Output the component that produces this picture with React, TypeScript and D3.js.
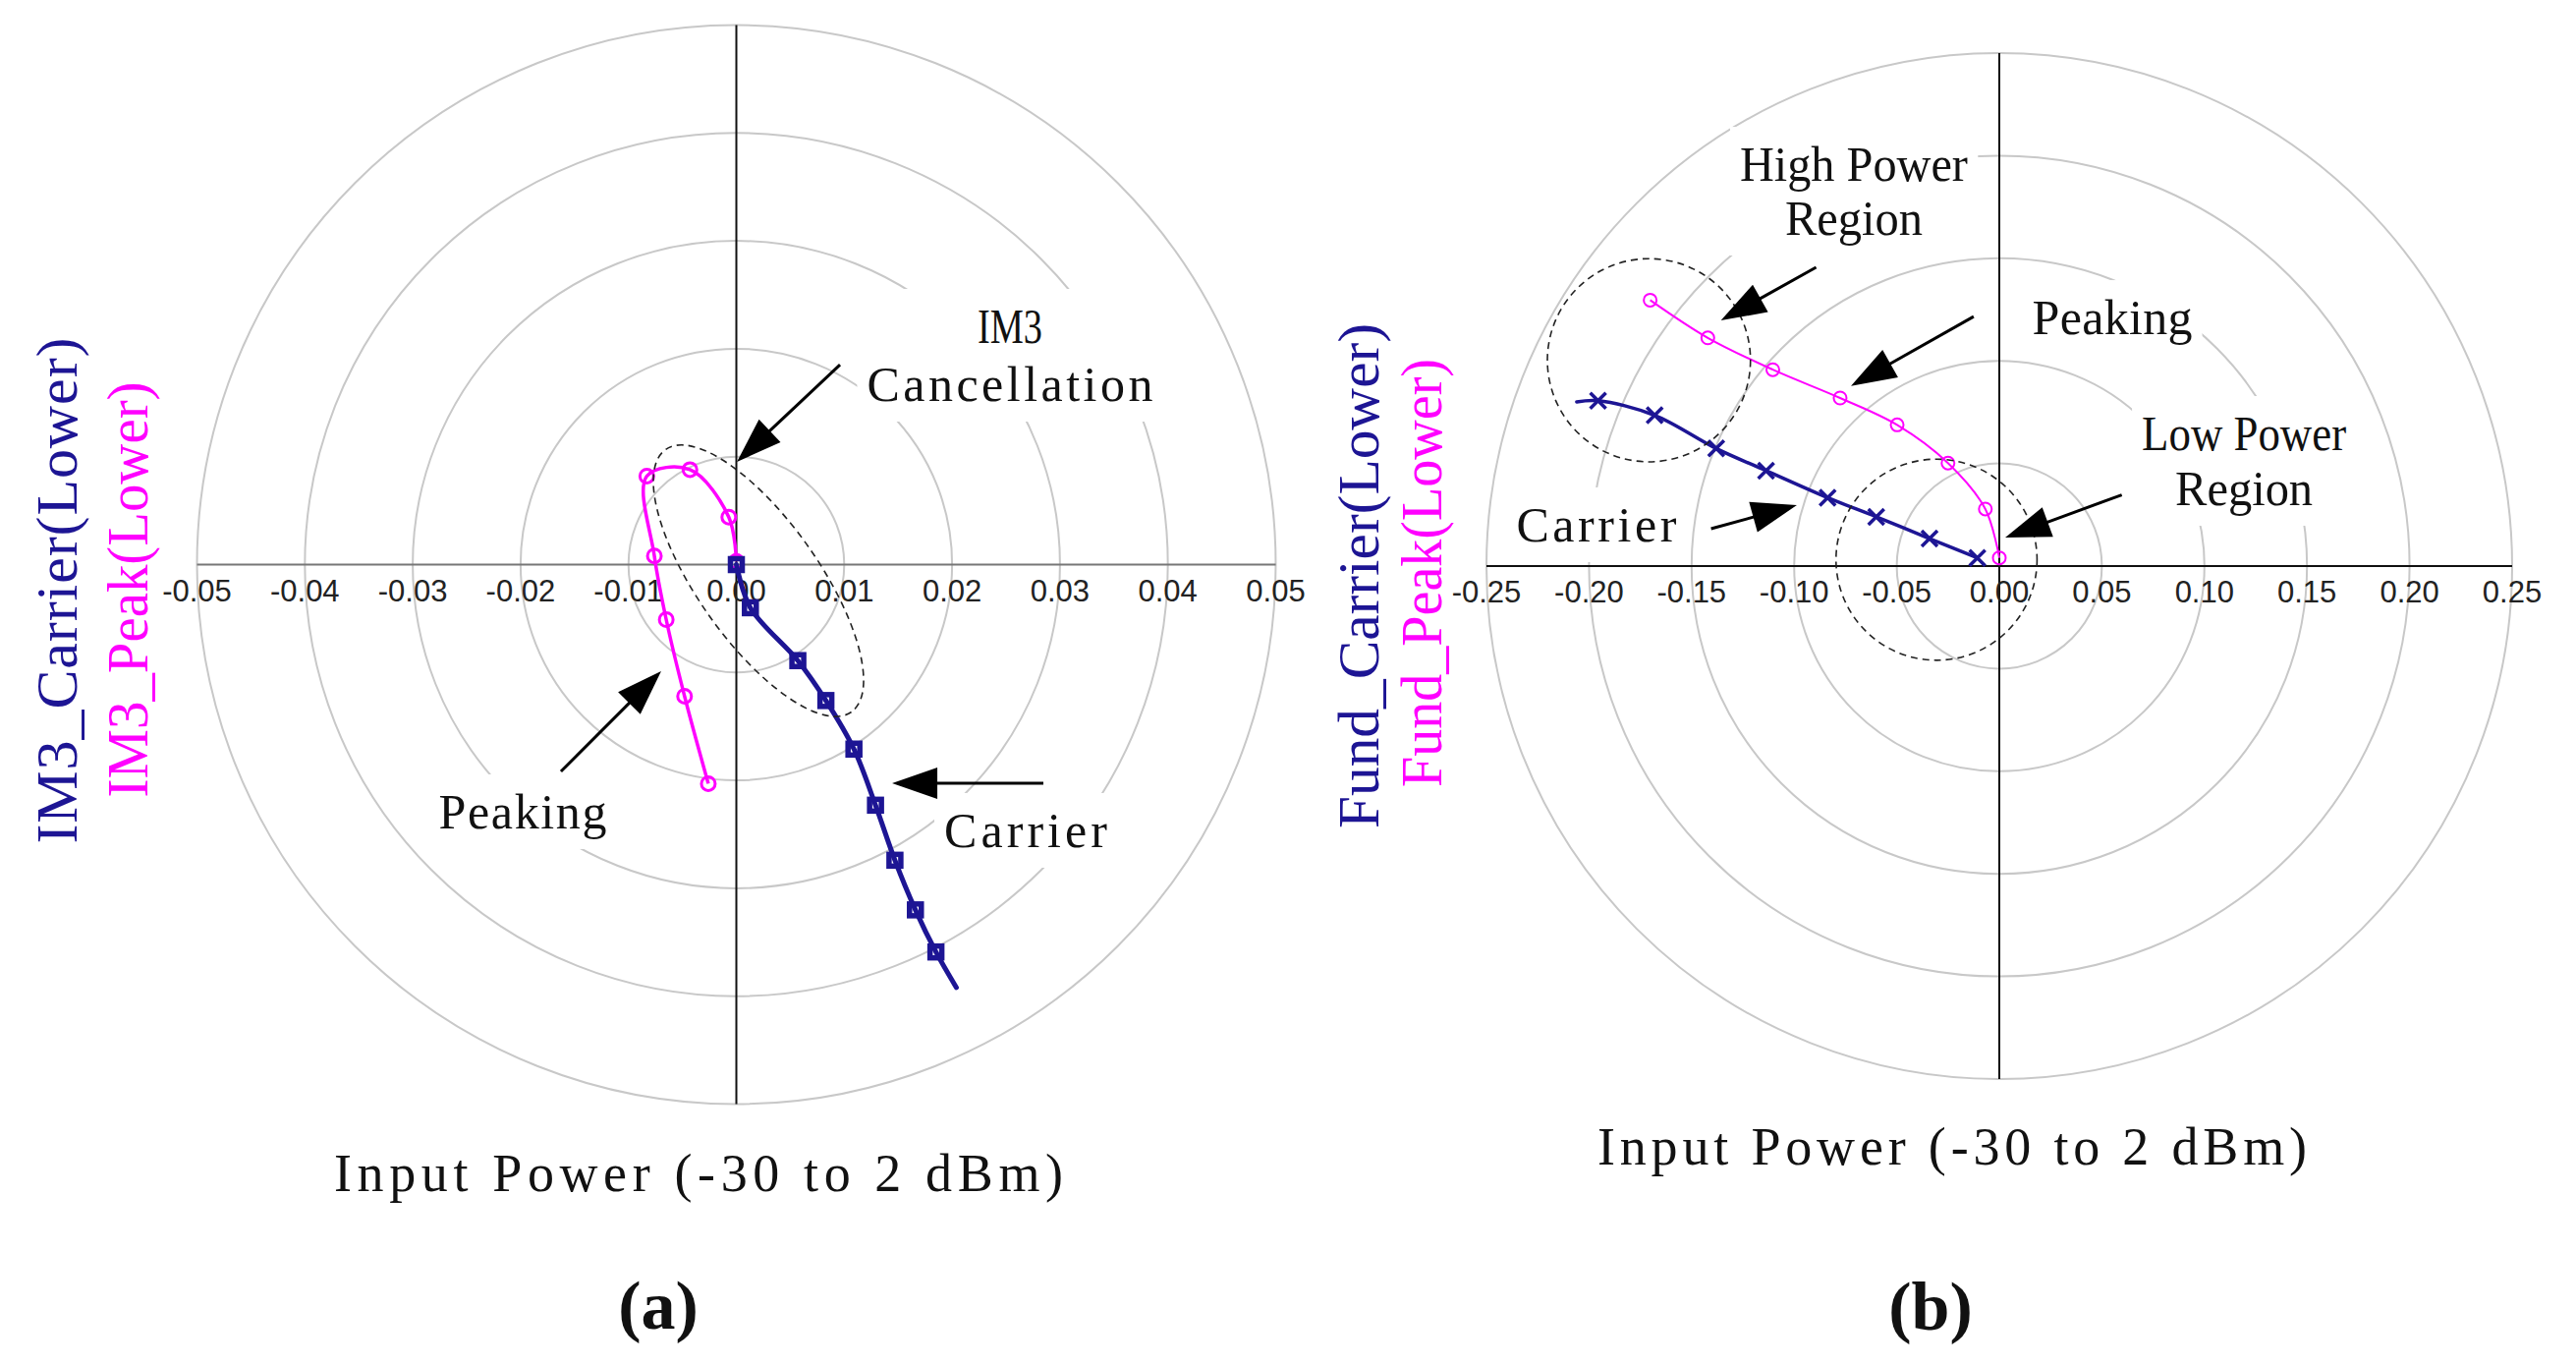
import React, { useEffect, useRef } from 'react';
import * as d3 from 'd3';

type Pt = [number, number];

// ---- panel (a): IM3 vectors, lower side ----
const im3CarrierRe = [0.0, 0.0013, 0.0057, 0.0083, 0.0109, 0.0129, 0.0147, 0.0166, 0.0185];
const im3CarrierIm = [0.0, -0.004, -0.0089, -0.0126, -0.0171, -0.0223, -0.0274, -0.032, -0.0359];
const im3CarrierTail: Pt = [0.0204, -0.0392];
const im3PeakRe = [0.0, -0.0007, -0.0043, -0.0083, -0.0076, -0.0065, -0.0048, -0.0026];
const im3PeakIm = [0.0003, 0.0044, 0.0088, 0.0082, 0.0008, -0.0051, -0.0122, -0.0203];
const ticksA = [-0.05, -0.04, -0.03, -0.02, -0.01, 0.0, 0.01, 0.02, 0.03, 0.04, 0.05];
const ringsA = [0.01, 0.02, 0.03, 0.04, 0.05];

// ---- panel (b): fundamental vectors, lower side ----
const fundCarrierRe = [-0.0107, -0.034, -0.06, -0.0837, -0.1137, -0.138, -0.168, -0.1956];
const fundCarrierIm = [0.004, 0.0134, 0.024, 0.0333, 0.0465, 0.0573, 0.0735, 0.0806];
const fundCarrierTail: Pt = [-0.206, 0.08];
const fundPeakRe = [0.0, -0.0068, -0.025, -0.0498, -0.0776, -0.1104, -0.1421, -0.1702];
const fundPeakIm = [0.004, 0.0278, 0.0502, 0.0688, 0.0819, 0.0957, 0.1112, 0.1296];
const ticksB = [-0.25, -0.2, -0.15, -0.1, -0.05, 0.0, 0.05, 0.1, 0.15, 0.2, 0.25];
const ringsB = [0.05, 0.1, 0.15, 0.2, 0.25];

const BLUE = '#1d1594';
const PINK = '#ff00ff';
const SERIF = '"Liberation Serif", "Times New Roman", serif';
const SANS = '"Liberation Sans", Arial, sans-serif';

const zip = (re: number[], im: number[]): Pt[] => re.map((v, i) => [v, im[i]]);

interface Line { text: string; x: number; y: number; w: number }
interface Panel {
  cx: number; cy: number; R: number; max: number;
  ticks: number[]; rings: number[];
  hAxisColor: string;
  carrier: Pt[]; carrierLine: Pt[]; peak: Pt[];
  carrierMarker: 'square' | 'cross';
  carrierWidth: number; peakWidth: number; peakR: number; peakStroke: number;
  ellipses: { c: Pt; rx: number; ry: number; rot: number }[];
  arrows: { from: Pt; to: Pt }[];
  blocks: Line[][];
  yLabels: { text: string; x: number; y: number; w: number; color: string }[];
  title: { x: number; y: number; w: number };
  tag: { text: string; x: number; y: number };
}

const panelA: Panel = {
  cx: 749.5, cy: 574.5, R: 549, max: 0.05,
  ticks: ticksA, rings: ringsA, hAxisColor: '#777',
  carrier: zip(im3CarrierRe, im3CarrierIm),
  carrierLine: [...zip(im3CarrierRe, im3CarrierIm), im3CarrierTail],
  peak: zip(im3PeakRe, im3PeakIm),
  carrierMarker: 'square', carrierWidth: 5, peakWidth: 3.5, peakR: 7, peakStroke: 3,
  ellipses: [{ c: [0.00205, -0.0015], rx: 0.0149, ry: 0.0056, rot: 54.7 }],
  arrows: [
    { from: [0.00961, 0.01853], to: [0.00005, 0.00952] },
    { from: [-0.01626, -0.01917], to: [-0.00697, -0.00988] },
    { from: [0.02846, -0.02026], to: [0.01444, -0.02026] },
  ],
  blocks: [
    [
      { text: 'IM3', x: 0.02536, y: 0.02054, w: 66 },
      { text: 'Cancellation', x: 0.02536, y: 0.01516, w: 291 },
    ],
    [{ text: 'Peaking', x: -0.01981, y: -0.02445, w: 171 }],
    [{ text: 'Carrier', x: 0.02682, y: -0.02618, w: 166 }],
  ],
  yLabels: [
    { text: 'IM3_Carrier(Lower)', x: 78, y: 601, w: 515, color: BLUE },
    { text: 'IM3_Peak(Lower)', x: 150, y: 600, w: 423, color: PINK },
  ],
  title: { x: 711, y: 1212, w: 742 },
  tag: { text: '(a)', x: 670, y: 1352 },
};

const panelB: Panel = {
  cx: 2035, cy: 576, R: 522, max: 0.25,
  ticks: ticksB, rings: ringsB, hAxisColor: '#111',
  carrier: zip(fundCarrierRe, fundCarrierIm),
  carrierLine: [...zip(fundCarrierRe, fundCarrierIm), fundCarrierTail],
  peak: zip(fundPeakRe, fundPeakIm),
  carrierMarker: 'cross', carrierWidth: 3.5, peakWidth: 2, peakR: 6.5, peakStroke: 2,
  ellipses: [
    { c: [-0.1708, 0.1003], rx: 0.0495, ry: 0.0495, rot: 0 },
    { c: [-0.0306, 0.0031], rx: 0.049, ry: 0.049, rot: 0 },
  ],
  arrows: [
    { from: [-0.0893, 0.1456], to: [-0.1357, 0.1197] },
    { from: [-0.0125, 0.1216], to: [-0.0723, 0.0878] },
    { from: [-0.1405, 0.0182], to: [-0.0987, 0.0297] },
    { from: [0.0597, 0.0347], to: [0.0029, 0.0139] },
  ],
  blocks: [
    [
      { text: 'High Power', x: -0.0709, y: 0.1877, w: 232 },
      { text: 'Region', x: -0.0709, y: 0.1614, w: 140 },
    ],
    [{ text: 'Peaking', x: 0.0551, y: 0.113, w: 163 }],
    [
      { text: 'Low Power', x: 0.1193, y: 0.0565, w: 208 },
      { text: 'Region', x: 0.1193, y: 0.0297, w: 140 },
    ],
    [{ text: 'Carrier', x: -0.1964, y: 0.012, w: 163 }],
  ],
  yLabels: [
    { text: 'Fund_Carrier(Lower)', x: 1403, y: 586, w: 514, color: BLUE },
    { text: 'Fund_Peak(Lower)', x: 1467, y: 583, w: 436, color: PINK },
  ],
  title: { x: 1987, y: 1185, w: 722 },
  tag: { text: '(b)', x: 1965, y: 1353 },
};

// stretch or squeeze a text to the width it has in the figure
const fit = (sel: d3.Selection<SVGTextElement, unknown, null, undefined>, w: number) => {
  const natural = sel.node()!.getComputedTextLength();
  sel.attr('textLength', w).attr('lengthAdjust', natural > w ? 'spacingAndGlyphs' : 'spacing');
};

const drawPanel = (root: d3.Selection<SVGSVGElement, unknown, null, undefined>, p: Panel) => {
  const x = d3.scaleLinear().domain([-p.max, p.max]).range([p.cx - p.R, p.cx + p.R]);
  const y = d3.scaleLinear().domain([-p.max, p.max]).range([p.cy + p.R, p.cy - p.R]);
  const r = d3.scaleLinear().domain([0, p.max]).range([0, p.R]);

  const g = root.append('g');
  const gGrid = g.append('g');
  const gMask = g.append('g');
  const gAxes = g.append('g');
  const gData = g.append('g');
  const gAnno = g.append('g');
  const gText = g.append('g');

  // rings
  gGrid.selectAll('circle').data(p.rings).enter().append('circle')
    .attr('cx', x(0)).attr('cy', y(0)).attr('r', d => r(d))
    .attr('fill', 'none').attr('stroke', '#c8c8c8').attr('stroke-width', 2);

  // axes
  gAxes.append('line')
    .attr('x1', x(-p.max)).attr('x2', x(p.max)).attr('y1', y(0)).attr('y2', y(0))
    .attr('stroke', p.hAxisColor).attr('stroke-width', 2);
  gAxes.append('line')
    .attr('x1', x(0)).attr('x2', x(0)).attr('y1', y(p.max)).attr('y2', y(-p.max))
    .attr('stroke', '#111').attr('stroke-width', 2);

  gAxes.selectAll('text.tick').data(p.ticks).enter().append('text')
    .attr('class', 'tick')
    .attr('x', d => x(d)).attr('y', y(0) + 37)
    .attr('text-anchor', 'middle')
    .attr('font-family', SANS).attr('font-size', 31).attr('fill', '#222')
    .text(d => d.toFixed(2));

  // dashed regions
  p.ellipses.forEach(e => {
    const ex = x(e.c[0]);
    const ey = y(e.c[1]);
    gAnno.append('ellipse')
      .attr('cx', ex).attr('cy', ey).attr('rx', r(e.rx)).attr('ry', r(e.ry))
      .attr('transform', `rotate(${e.rot},${ex},${ey})`)
      .attr('fill', 'none').attr('stroke', '#222').attr('stroke-width', 1.6)
      .attr('stroke-dasharray', '7,5');
  });

  const line = d3.line<Pt>().x(d => x(d[0])).y(d => y(d[1])).curve(d3.curveCatmullRom.alpha(0.5));

  // peak path
  gData.append('path').attr('d', line(p.peak))
    .attr('fill', 'none').attr('stroke', PINK).attr('stroke-width', p.peakWidth);
  gData.selectAll('circle.pk').data(p.peak).enter().append('circle')
    .attr('class', 'pk')
    .attr('cx', d => x(d[0])).attr('cy', d => y(d[1])).attr('r', p.peakR)
    .attr('fill', 'none').attr('stroke', PINK).attr('stroke-width', p.peakStroke);

  // carrier path
  gData.append('path').attr('d', line(p.carrierLine))
    .attr('fill', 'none').attr('stroke', BLUE).attr('stroke-width', p.carrierWidth)
    .attr('stroke-linecap', 'round');
  if (p.carrierMarker === 'square') {
    gData.selectAll('rect.cr').data(p.carrier).enter().append('rect')
      .attr('class', 'cr')
      .attr('x', d => x(d[0]) - 6).attr('y', d => y(d[1]) - 6)
      .attr('width', 12).attr('height', 12)
      .attr('fill', 'none').attr('stroke', BLUE).attr('stroke-width', 5.5);
  } else {
    const s = 8;
    gData.selectAll('path.cr').data(p.carrier).enter().append('path')
      .attr('class', 'cr')
      .attr('d', d => {
        const px = x(d[0]);
        const py = y(d[1]);
        return `M${px - s},${py - s}L${px + s},${py + s}M${px - s},${py + s}L${px + s},${py - s}`;
      })
      .attr('fill', 'none').attr('stroke', BLUE).attr('stroke-width', 3.5);
  }

  // arrows
  p.arrows.forEach(a => {
    const x1 = x(a.from[0]);
    const y1 = y(a.from[1]);
    const x2 = x(a.to[0]);
    const y2 = y(a.to[1]);
    const len = Math.hypot(x2 - x1, y2 - y1);
    const ux = (x2 - x1) / len;
    const uy = (y2 - y1) / len;
    const L = 46;
    const W = 16;
    const bx = x2 - ux * L;
    const by = y2 - uy * L;
    gAnno.append('line')
      .attr('x1', x1).attr('y1', y1).attr('x2', bx + ux * 4).attr('y2', by + uy * 4)
      .attr('stroke', '#000').attr('stroke-width', 3);
    gAnno.append('path')
      .attr('d', `M${x2},${y2}L${bx - uy * W},${by + ux * W}L${bx + uy * W},${by - ux * W}Z`)
      .attr('fill', '#000');
  });

  // annotation texts, each block knocks the rings out behind it
  p.blocks.forEach(block => {
    let x0 = Infinity, y0 = Infinity, x1 = -Infinity, y1 = -Infinity;
    block.forEach(l => {
      const t = gText.append('text')
        .attr('x', x(l.x)).attr('y', y(l.y))
        .attr('text-anchor', 'middle')
        .attr('font-family', SERIF).attr('font-size', 50).attr('fill', '#111')
        .text(l.text);
      fit(t, l.w);
      const b = t.node()!.getBBox();
      x0 = Math.min(x0, b.x); y0 = Math.min(y0, b.y);
      x1 = Math.max(x1, b.x + b.width); y1 = Math.max(y1, b.y + b.height);
    });
    const pad = 10;
    gMask.append('rect')
      .attr('x', x0 - pad).attr('y', y0 - pad)
      .attr('width', x1 - x0 + 2 * pad).attr('height', y1 - y0 + 2 * pad)
      .attr('fill', '#fff');
  });

  // y labels
  p.yLabels.forEach(l => {
    const t = gText.append('text')
      .attr('transform', `translate(${l.x},${l.y}) rotate(-90)`)
      .attr('text-anchor', 'middle')
      .attr('font-family', SERIF).attr('font-size', 60).attr('fill', l.color)
      .text(l.text);
    fit(t, l.w);
  });

  // x title
  const tt = gText.append('text')
    .attr('x', p.title.x).attr('y', p.title.y)
    .attr('text-anchor', 'middle')
    .attr('font-family', SERIF).attr('font-size', 54).attr('fill', '#111')
    .text('Input Power (-30 to 2 dBm)');
  fit(tt, p.title.w);

  gText.append('text')
    .attr('x', p.tag.x).attr('y', p.tag.y)
    .attr('text-anchor', 'middle')
    .attr('font-family', SERIF).attr('font-size', 70).attr('font-weight', 'bold').attr('fill', '#111')
    .text(p.tag.text);
};

const App: React.FC = () => {
  const svgRef = useRef<SVGSVGElement>(null);

  useEffect(() => {
    if (!svgRef.current) return;
    const svg = d3.select(svgRef.current);
    svg.selectAll('*').remove();
    svg.append('rect').attr('width', 2622).attr('height', 1390).attr('fill', '#fff');
    drawPanel(svg, panelA);
    drawPanel(svg, panelB);
  }, []);

  return (
    <svg
      ref={svgRef}
      width={2622}
      height={1390}
      style={{ position: 'absolute', left: 0, top: 0, display: 'block', background: '#fff' }}
    />
  );
};

export default App;
